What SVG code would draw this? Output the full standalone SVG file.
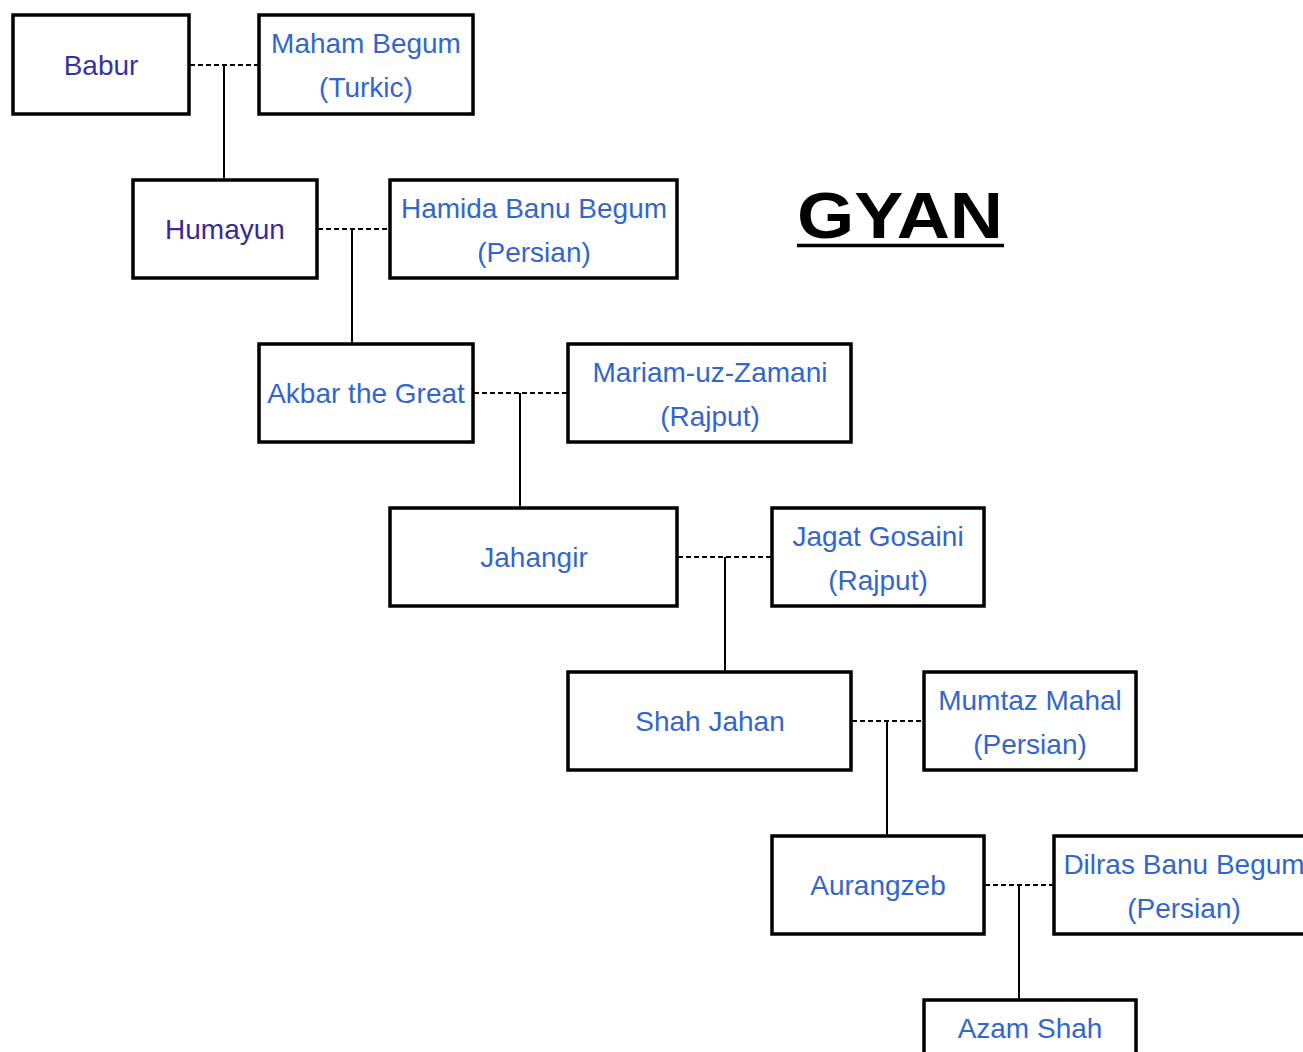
<svg xmlns="http://www.w3.org/2000/svg" width="1303" height="1052" viewBox="0 0 1303 1052">
<style>
.box{fill:#fff;stroke:#000;stroke-width:3.5}
.t{font-family:"Liberation Sans",Arial,sans-serif;font-size:28px;fill:#3366cc;text-anchor:middle}
.v{fill:#36359f}
.marr{stroke:#000;stroke-width:2;stroke-dasharray:5,3;fill:none}
.child{stroke:#000;stroke-width:2;fill:none}
</style>
<rect width="1303" height="1052" fill="#fff"/>
<g id="connectors">
<line class="marr" x1="190" y1="65" x2="258" y2="65"/>
<line class="child" x1="224" y1="65" x2="224" y2="179"/>
<line class="marr" x1="318" y1="229" x2="389" y2="229"/>
<line class="child" x1="352" y1="229" x2="352" y2="343"/>
<line class="marr" x1="474" y1="393" x2="567" y2="393"/>
<line class="child" x1="520" y1="393" x2="520" y2="507"/>
<line class="marr" x1="678" y1="557" x2="771" y2="557"/>
<line class="child" x1="725" y1="557" x2="725" y2="671"/>
<line class="marr" x1="852" y1="721" x2="923" y2="721"/>
<line class="child" x1="887" y1="721" x2="887" y2="835"/>
<line class="marr" x1="985" y1="885" x2="1053" y2="885"/>
<line class="child" x1="1019" y1="885" x2="1019" y2="999"/>
</g>
<g id="babur"><rect class="box" x="13" y="15" width="176" height="99"/><text class="t v" x="101" y="75">Babur</text></g>
<g id="maham"><rect class="box" x="259" y="15" width="214" height="99"/><text class="t" x="366" y="53">Maham Begum</text><text class="t" x="366" y="97">(Turkic)</text></g>
<g id="humayun"><rect class="box" x="133" y="180" width="184" height="98"/><text class="t" x="225" y="239" style="fill:#3a2a92">Humayun</text></g>
<g id="hamida"><rect class="box" x="390" y="180" width="287" height="98"/><text class="t" x="534" y="218">Hamida Banu Begum</text><text class="t" x="534" y="262">(Persian)</text></g>
<g id="akbar"><rect class="box" x="259" y="344" width="214" height="98"/><text class="t" x="366" y="403">Akbar the Great</text></g>
<g id="mariam"><rect class="box" x="568" y="344" width="283" height="98"/><text class="t" x="710" y="382">Mariam-uz-Zamani</text><text class="t" x="710" y="426">(Rajput)</text></g>
<g id="jahangir"><rect class="box" x="390" y="508" width="287" height="98"/><text class="t" x="534" y="567">Jahangir</text></g>
<g id="jagat"><rect class="box" x="772" y="508" width="212" height="98"/><text class="t" x="878" y="546">Jagat Gosaini</text><text class="t" x="878" y="590">(Rajput)</text></g>
<g id="shahjahan"><rect class="box" x="568" y="672" width="283" height="98"/><text class="t" x="710" y="731">Shah Jahan</text></g>
<g id="mumtaz"><rect class="box" x="924" y="672" width="212" height="98"/><text class="t" x="1030" y="710">Mumtaz Mahal</text><text class="t" x="1030" y="754">(Persian)</text></g>
<g id="aurangzeb"><rect class="box" x="772" y="836" width="212" height="98"/><text class="t" x="878" y="895">Aurangzeb</text></g>
<g id="dilras"><rect class="box" x="1054" y="836" width="262" height="98"/><text class="t" x="1184" y="874">Dilras Banu Begum</text><text class="t" x="1184" y="918">(Persian)</text></g>
<g id="azam"><rect class="box" x="924" y="1000" width="212" height="98"/><text class="t" x="1030" y="1038">Azam Shah</text></g>
<g id="title"><text x="900" y="238" font-family="'Liberation Sans',Arial,sans-serif" font-size="64" font-weight="bold" text-anchor="middle" fill="#000" textLength="206" lengthAdjust="spacingAndGlyphs">GYAN</text><line x1="797" y1="245.5" x2="1004" y2="245.5" stroke="#000" stroke-width="3.5"/></g>
</svg>
